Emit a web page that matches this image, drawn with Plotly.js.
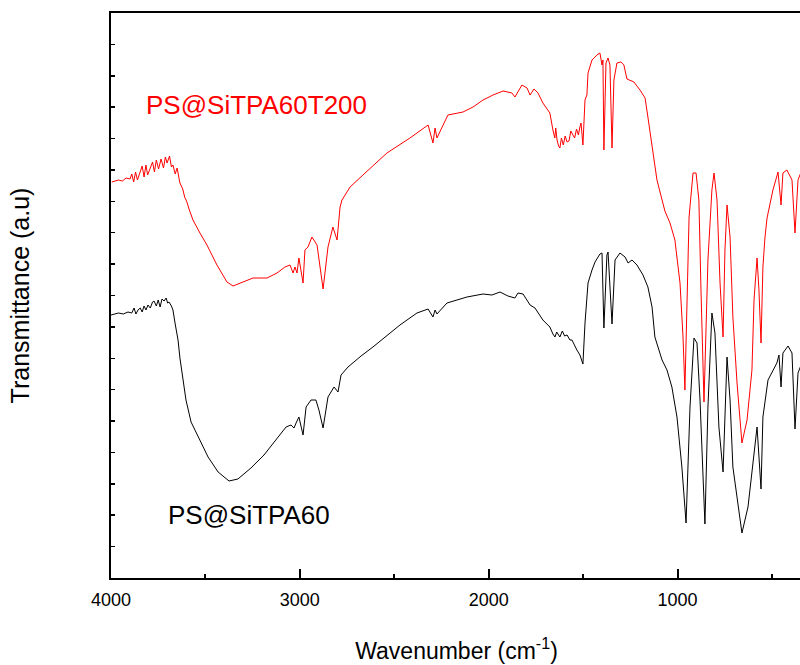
<!DOCTYPE html>
<html>
<head>
<meta charset="utf-8">
<script src="https://cdn.plot.ly/plotly-3.0.1.min.js"></script>
<style>
html,body{margin:0;padding:0;overflow:hidden;background:#fff;}
#chart{width:820px;height:665px;}
</style>
</head>
<body>
<div id="chart"></div>
<script>
// Wavenumber (cm-1) and transmittance (a.u.) for PS@SiTPA60T200 (red)
const redWn = [3996,3960,3940,3920,3899,3890,3880,3870,3860,3846,3835,3825,3815,3806,3794,3780,3770,3760,3748,3735,3722,3712,3703,3690,3680,3672,3660,3650,3635,3620,3610,3598,3585,3575,3566,3529,3492,3439,3386,3354,3301,3248,3174,3121,3079,3052,3036,3026,3015,3005,2983,2973,2957,2936,2909,2877,2851,2825,2803,2787,2777,2734,2666,2539,2417,2321,2295,2284,2274,2216,2136,2083,2030,1977,1924,1877,1861,1824,1797,1781,1760,1739,1713,1676,1660,1650,1645,1638,1630,1623,1615,1605,1595,1585,1575,1565,1554,1545,1535,1525,1517,1511,1501,1490,1480,1474,1453,1427,1411,1400,1395,1390,1379,1368,1358,1347,1337,1321,1300,1284,1268,1231,1199,1172,1157,1130,1109,1067,1040,1014,987,971,961,939,918,902,887,876,860,839,818,807,791,775,759,749,738,722,707,685,659,632,606,595,579,569,558,548,537,526,495,468,452,442,421,394,378,362,346];
const redT = [396,398,397,400,399,404,396,406,398,405,412,401,413,403,410,416,406,418,409,419,410,421,415,422,411,413,404,410,395,389,381,376,368,362,358,345,333,313,296,292,296,300,300,305,311,313,305,311,305,320,295,328,331,341,333,289,331,351,338,371,378,391,403,425,440,453,435,450,440,463,466,471,478,483,487,485,481,493,490,483,489,485,475,465,448,440,450,438,432,430,440,433,442,436,437,447,443,440,449,443,451,455,433,478,483,505,518,523,525,513,518,428,515,520,513,430,498,515,516,513,499,496,488,480,461,428,398,367,355,338,295,241,188,361,405,405,378,288,176,318,388,405,378,295,241,328,373,341,261,195,135,158,208,278,320,288,235,311,341,360,388,406,373,405,408,398,345,398,406];

// Wavenumber (cm-1) and transmittance (a.u.) for PS@SiTPA60 (black)
const blackWn = [4000,3960,3935,3910,3890,3878,3868,3857,3845,3835,3825,3815,3804,3792,3780,3772,3760,3750,3740,3730,3719,3708,3700,3693,3680,3672,3661,3645,3635,3619,3603,3576,3539,3486,3433,3375,3328,3259,3190,3116,3073,3047,3031,3020,3005,2983,2967,2941,2915,2899,2877,2851,2819,2798,2782,2745,2676,2613,2470,2380,2321,2295,2284,2274,2221,2115,2030,1983,1940,1898,1861,1845,1818,1781,1755,1713,1676,1660,1649,1640,1623,1610,1598,1585,1570,1559,1545,1533,1517,1501,1490,1474,1453,1437,1411,1400,1390,1374,1368,1347,1331,1305,1278,1262,1241,1215,1183,1157,1135,1120,1082,1056,1030,1003,977,955,934,913,897,881,855,839,818,802,781,759,738,722,707,659,627,601,579,558,548,521,474,463,452,442,415,394,378,362,346];
const blackT = [263,265,264,266,265,270,264,268,270,266,272,268,273,270,276,277,272,278,271,279,277,280,275,276,272,268,255,238,220,198,178,156,141,121,106,97,99,110,123,141,151,153,150,155,161,143,171,178,178,168,150,181,191,186,203,211,222,231,253,265,269,261,268,264,275,281,284,283,286,282,280,285,284,273,270,258,251,244,241,246,241,247,242,243,238,238,232,228,223,214,255,295,308,316,324,325,250,323,326,254,318,325,321,315,318,313,303,291,271,241,218,208,191,161,111,55,171,240,235,178,54,171,265,245,151,106,221,178,111,45,71,118,151,89,161,198,215,223,191,225,232,225,149,205,213];

const tickVals = [4000,3000,2000,1000];
const tickText = ['4000','3000','2000','1000'];

const FONT = 'Liberation Sans, Arial, Helvetica, sans-serif';

const traces = [
  {x: redWn, y: redT, type:'scatter', mode:'lines', line:{color:'#ff0000', width:1}, name:'PS@SiTPA60T200', hoverinfo:'skip'},
  {x: blackWn, y: blackT, type:'scatter', mode:'lines', line:{color:'#000000', width:1}, name:'PS@SiTPA60', hoverinfo:'skip'}
];

const layout = {
  width: 820, height: 665,
  margin: {l:111, r:18, t:13, b:87, pad:0},
  paper_bgcolor:'#ffffff', plot_bgcolor:'#ffffff',
  showlegend:false,
  font:{family:FONT, color:'#000'},
  xaxis:{
    range:[4000, 341],
    tickmode:'array', tickvals:tickVals, ticktext:tickText,
    ticks:'inside', ticklen:9, tickwidth:2, tickcolor:'#000',
    ticklabelstandoff:4,
    minor:{ticks:'inside', ticklen:4, tickwidth:2, tickmode:'linear', tick0:0, dtick:500, tickcolor:'#000'},
    showline:true, linewidth:2, linecolor:'#000', mirror:true,
    showgrid:false, zeroline:false,
    tickfont:{size:18, family:FONT},
    title:{text:'Wavenumber (cm<sup>-1</sup>)', font:{size:23, family:FONT}, standoff:34}
  },
  yaxis:{
    range:[0, 565],
    tickmode:'linear', tick0:0, dtick:565/18,
    ticks:'inside', ticklen:4, tickwidth:1.5, tickcolor:'#000',
    showticklabels:false,
    showline:true, linewidth:2, linecolor:'#000', mirror:true,
    showgrid:false, zeroline:false,
    title:{text:'Transmittance (a.u)', font:{size:25, family:FONT}, standoff:72}
  },
  annotations:[
    {xref:'paper', yref:'paper', x:0.21, y:0.837, text:'PS@SiTPA60T200', showarrow:false, font:{size:26, color:'#ff0000', family:FONT}, xanchor:'center', yanchor:'middle'},
    {xref:'paper', yref:'paper', x:0.20, y:0.1115, text:'PS@SiTPA60', showarrow:false, font:{size:26, color:'#000000', family:FONT}, xanchor:'center', yanchor:'middle'}
  ]
};

Plotly.newPlot('chart', traces, layout, {displayModeBar:false, staticPlot:true});
</script>
</body>
</html>
